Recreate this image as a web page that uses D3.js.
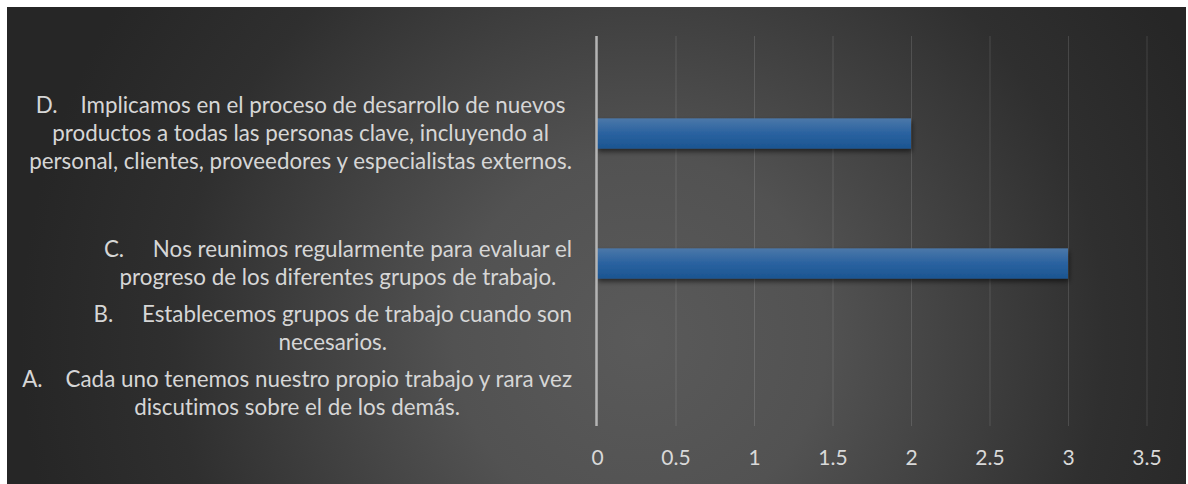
<!DOCTYPE html>
<html>
<head>
<meta charset="utf-8">
<script src="https://cdn.jsdelivr.net/npm/d3@7"></script>
<style>
  html, body { margin: 0; padding: 0; background: #ffffff; }
  svg { display: block; }
  text { font-variant-ligatures: none; font-feature-settings: "liga" 0, "clig" 0; }
</style>
</head>
<body>
<svg id="chart" width="1188" height="484"></svg>
<script>
// ---- data ----
const categoryIds = ["A", "B", "C", "blank1", "D", "blank2"];
const categoryLabels = [
  "A.    Cada uno tenemos nuestro propio trabajo y rara vez\ndiscutimos sobre el de los demás.",
  "B.     Establecemos grupos de trabajo cuando son\nnecesarios.",
  "C.     Nos reunimos regularmente para evaluar el\nprogreso de los diferentes grupos de trabajo.",
  "",
  "D.    Implicamos en el proceso de desarrollo de nuevos\nproductos a todas las personas clave, incluyendo al\npersonal, clientes, proveedores y especialistas externos.",
  ""
];
const values = [0, 0, 3, null, 2, null];
const xTicks = [0, 0.5, 1, 1.5, 2, 2.5, 3, 3.5];
const xTickLabels = ["0", "0.5", "1", "1.5", "2", "2.5", "3", "3.5"];

// ---- layout ----
const W = 1188, H = 484;
const plot = { left: 597, right: 1146.5, top: 36, bottom: 426 };
const labelRight = 572;
const lineHeight = 28;
const fontFamily = "Lato, 'Open Sans', 'DejaVu Sans', sans-serif";

const svg = d3.select("#chart");
const defs = svg.append("defs");

// background radial gradient
const bg = defs.append("radialGradient")
  .attr("id", "bgGrad")
  .attr("gradientUnits", "userSpaceOnUse")
  .attr("cx", 640).attr("cy", 340).attr("r", 620)
  .attr("fx", 640).attr("fy", 340);
bg.append("stop").attr("offset", "0").attr("stop-color", "#5a5a5a");
bg.append("stop").attr("offset", "0.3").attr("stop-color", "#525252");
bg.append("stop").attr("offset", "0.75").attr("stop-color", "#2f2f2f");
bg.append("stop").attr("offset", "1").attr("stop-color", "#262626");

// bar gradient
const barGrad = defs.append("linearGradient")
  .attr("id", "barGrad").attr("x1", 0).attr("y1", 0).attr("x2", 0).attr("y2", 1);
barGrad.append("stop").attr("offset", "0").attr("stop-color", "#4b78a9");
barGrad.append("stop").attr("offset", "0.5").attr("stop-color", "#2a62a0");
barGrad.append("stop").attr("offset", "1").attr("stop-color", "#1b5591");

const shadow = defs.append("filter").attr("id", "barShadow")
  .attr("x", "-5%").attr("y", "-30%").attr("width", "110%").attr("height", "180%");
shadow.append("feDropShadow")
  .attr("dx", 1).attr("dy", 3).attr("stdDeviation", 2.5)
  .attr("flood-color", "#000").attr("flood-opacity", 0.55);

svg.append("rect")
  .attr("x", 7).attr("y", 7).attr("width", W - 9).attr("height", H - 7)
  .attr("fill", "url(#bgGrad)");

// scales
const x = d3.scaleLinear().domain([0, 3.5]).range([plot.left, plot.right]);
const pad = 0.534;
const y = d3.scaleBand()
  .domain(categoryIds.slice().reverse())
  .range([plot.top, plot.bottom])
  .paddingInner(pad).paddingOuter(pad / 2);

// gridlines
const grid = svg.append("g")
  .attr("transform", `translate(0,${plot.bottom})`)
  .call(d3.axisBottom(x).tickValues(xTicks.slice(1)).tickSize(-(plot.bottom - plot.top)).tickFormat(""));
grid.select(".domain").remove();
grid.selectAll("line").attr("stroke", "#ffffff").attr("stroke-opacity", 0.13).attr("stroke-width", 1);

// bars
const rows = categoryIds.map((id, i) => ({ id, label: categoryLabels[i], value: values[i] }));
svg.append("g").selectAll("rect")
  .data(rows.filter(d => d.value != null && d.value > 0))
  .join("rect")
  .attr("x", x(0))
  .attr("y", d => y(d.id))
  .attr("width", d => x(d.value) - x(0))
  .attr("height", y.bandwidth())
  .attr("fill", "url(#barGrad)")
  .attr("filter", "url(#barShadow)");

// vertical category axis line
svg.append("line")
  .attr("x1", x(0) - 0.5).attr("x2", x(0) - 0.5)
  .attr("y1", plot.top).attr("y2", plot.bottom)
  .attr("stroke", "#b4b4b4").attr("stroke-width", 2.5);

// x tick labels
const xAxis = svg.append("g")
  .attr("transform", `translate(0,${plot.bottom})`)
  .call(d3.axisBottom(x).tickValues(xTicks).tickSize(0).tickPadding(24)
    .tickFormat((d, i) => xTickLabels[i]));
xAxis.select(".domain").remove();
xAxis.selectAll("text")
  .attr("fill", "#d9d9d9")
  .style("font-family", fontFamily)
  .style("font-size", "21px");

// category labels
const labelG = svg.append("g")
  .style("font-family", fontFamily)
  .attr("fill", "#d6d6d6");

// fit font size so the widest line matches the reference width
const probe = labelG.append("text").style("font-size", "100px").attr("xml:space", "preserve")
  .text("A.    Cada uno tenemos nuestro propio trabajo y rara vez");
const probeW = probe.node().getComputedTextLength();
probe.remove();
const labelFont = Math.min(24, 100 * 550 / probeW);

rows.forEach(r => {
  if (!r.label) return;
  const lines = r.label.split("\n");
  const cy = y(r.id) + y.bandwidth() / 2;
  const t = labelG.append("text")
    .attr("xml:space", "preserve")
    .style("font-size", labelFont + "px")
    .style("white-space", "pre")
    .attr("text-anchor", "middle");
  const tspans = lines.map((ln, i) => t.append("tspan")
    .attr("y", cy + (i - (lines.length - 1) / 2) * lineHeight)
    .attr("dy", "0.35em")
    .text(ln));
  let maxW = 0;
  tspans.forEach(ts => { maxW = Math.max(maxW, ts.node().getComputedTextLength()); });
  tspans.forEach(ts => ts.attr("x", labelRight - maxW / 2));
});
</script>
</body>
</html>
